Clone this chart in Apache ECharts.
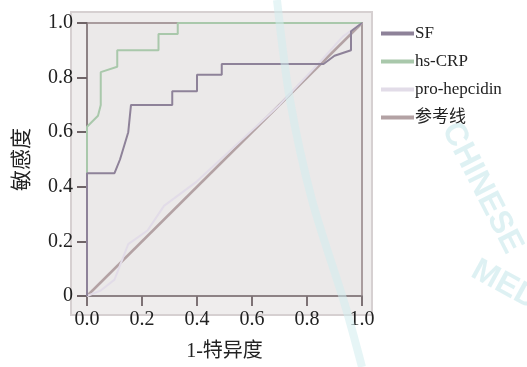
<!DOCTYPE html>
<html>
<head>
<meta charset="utf-8">
<script src="https://cdn.jsdelivr.net/npm/echarts@6/dist/echarts.min.js"></script>
<style>
  html, body { margin: 0; padding: 0; background: #fff; }
  #chart { width: 527px; height: 367px; }
</style>
</head>
<body>
<div id="chart"></div>
<script>
// ROC curves, [1-specificity, sensitivity]
const sfPoints = [[0, 0], [0, 0.45], [0.10, 0.45], [0.12, 0.50], [0.15, 0.60], [0.16, 0.70], [0.31, 0.70],
  [0.31, 0.75], [0.40, 0.75], [0.40, 0.81], [0.49, 0.81], [0.49, 0.85], [0.86, 0.85], [0.90, 0.88],
  [0.96, 0.90], [0.96, 0.97], [1, 1]]
const crpPoints = [[0, 0], [0, 0.62], [0.04, 0.66], [0.05, 0.70], [0.05, 0.82], [0.11, 0.84], [0.11, 0.90],
  [0.26, 0.90], [0.26, 0.96], [0.33, 0.96], [0.33, 1.0], [1, 1]]
const hepPoints = [[0, 0], [0.05, 0.02], [0.10, 0.06], [0.15, 0.19], [0.22, 0.24], [0.28, 0.33], [0.40, 0.42],
  [0.55, 0.56], [0.70, 0.70], [0.85, 0.86], [0.93, 0.95], [1, 1]]
const refPoints = [[0, 0], [1, 1]]

const seriesNames = ['SF', 'hs-CRP', 'pro-hepcidin', '参考线']
const seriesColors = ['#8e8299', '#a9c8ab', '#e2dce8', '#b3a2a4']
const seriesData = [sfPoints, crpPoints, hepPoints, refPoints]
const tickValues = [0, 0.2, 0.4, 0.6, 0.8, 1.0]

const serif = '"Liberation Serif", "Noto Sans CJK SC", serif'
const chart = echarts.init(document.getElementById('chart'))

chart.setOption({
  backgroundColor: '#fff',
  animation: false,
  graphic: [
    { type: 'rect', z: -10, silent: true, shape: { x: 71, y: 12, width: 301, height: 303 },
      style: { fill: '#efeded', stroke: '#d6d0d1', lineWidth: 2 } },
    { type: 'polyline', z: 100, silent: true,
      shape: { points: [[277, 0], [290, 100], [312, 200], [345, 305], [362, 367]], smooth: 0.3 },
      style: { stroke: '#d2ecee', lineWidth: 8, fill: null, opacity: 0.55 } },
    { type: 'text', z: 100, silent: true, x: 482, y: 188, rotation: -1.1,
      style: { text: 'CHINESE', font: 'bold 32px "Liberation Sans"', fill: '#d6edf0', align: 'center', verticalAlign: 'middle', opacity: 0.8 } },
    { type: 'text', z: 100, silent: true, x: 505, y: 285, rotation: -0.5,
      style: { text: 'MED', font: 'bold 32px "Liberation Sans"', fill: '#d6edf0', align: 'center', verticalAlign: 'middle', opacity: 0.8 } },
  ],
  legend: {
    orient: 'vertical',
    left: 376,
    top: 20,
    itemWidth: 33,
    itemHeight: 4,
    itemGap: 11,
    icon: 'rect',
    data: seriesNames.map((n, i) => ({ name: n, itemStyle: { color: seriesColors[i] } })),
    textStyle: { fontFamily: serif, fontSize: 17, color: '#222', padding: [0, 0, 0, -4] },
  },
  grid: {
    left: 87, right: 165, top: 23, bottom: 65,
    show: true, backgroundColor: '#ebe9e9', borderColor: '#a99c9e', borderWidth: 2,
  },
  xAxis: {
    type: 'value', min: 0, max: 1, interval: 0.2,
    name: '1-特异度', nameLocation: 'middle', nameGap: 46,
    nameTextStyle: { fontFamily: serif, fontSize: 20, color: '#222' },
    axisLine: { show: true, lineStyle: { color: '#8d8285', width: 2 } },
    axisTick: { show: true, length: 10, lineStyle: { color: '#7d7275', width: 2 } },
    axisLabel: { fontFamily: serif, fontSize: 20, color: '#222', margin: 14,
      formatter: v => tickValues.includes(+v.toFixed(1)) ? v.toFixed(1) : '' },
    splitLine: { show: false },
  },
  yAxis: {
    type: 'value', min: 0, max: 1, interval: 0.2,
    name: '敏感度', nameLocation: 'middle', nameGap: 54,
    nameTextStyle: { fontFamily: serif, fontSize: 21, color: '#222' },
    axisLine: { show: true, lineStyle: { color: '#8d8285', width: 2 } },
    axisTick: { show: true, length: 10, lineStyle: { color: '#6f6467', width: 2 } },
    axisLabel: { fontFamily: serif, fontSize: 20, color: '#222', margin: 14,
      formatter: v => v === 0 ? '0' : v.toFixed(1) },
    splitLine: { show: false },
  },
  series: seriesNames.map((n, i) => ({
    name: n,
    type: 'line',
    data: seriesData[i],
    symbol: 'none',
    lineStyle: { color: seriesColors[i], width: i === 3 ? 2.5 : 2 },
    itemStyle: { color: seriesColors[i] },
    z: 4 - i,
  })),
})
</script>
</body>
</html>
